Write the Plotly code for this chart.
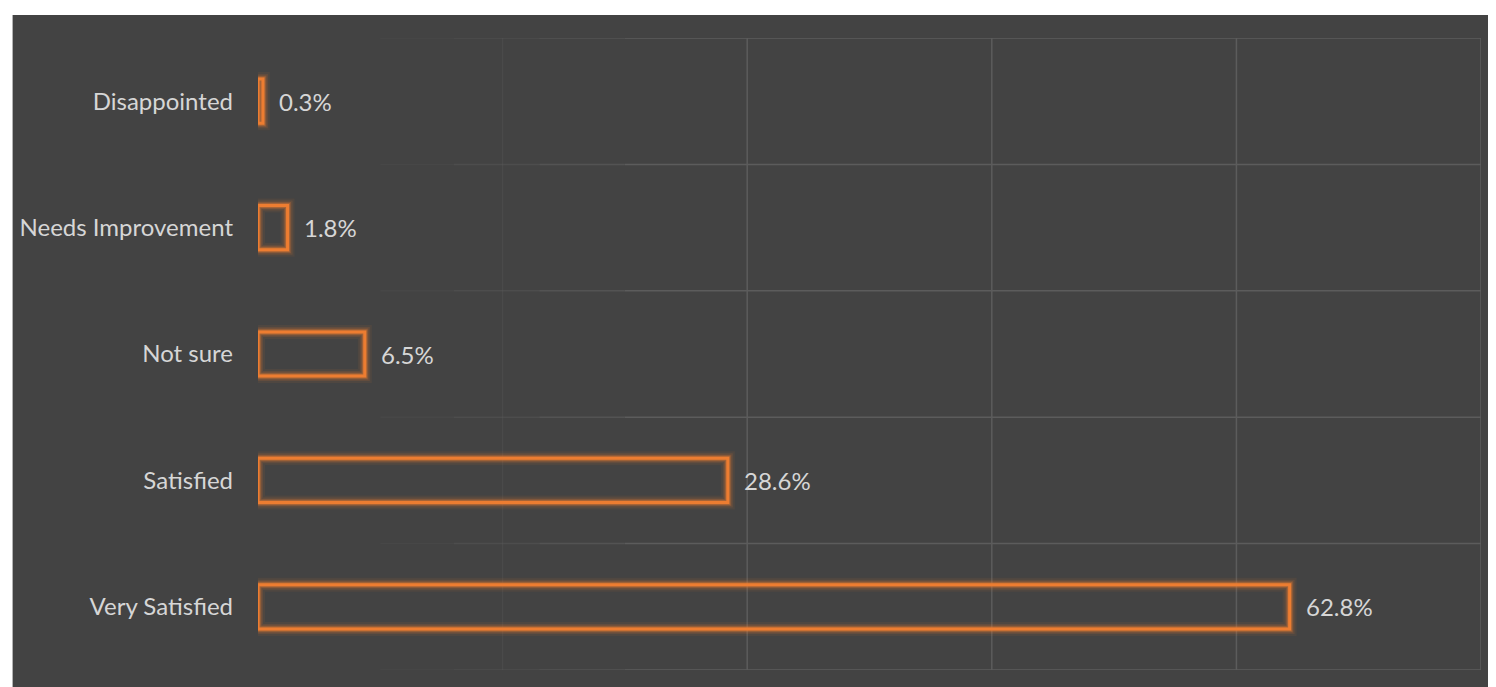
import plotly.graph_objects as go

categories = ["Disappointed", "Needs Improvement", "Not sure", "Satisfied", "Very Satisfied"]
values = [0.3, 1.8, 6.5, 28.6, 62.8]
value_labels = ["0.3%", "1.8%", "6.5%", "28.6%", "62.8%"]
x_max = 74.45
x_step = 14.89

# page body adds an 8px margin, so the figure is placed at (8, 8)
OFF = 8
W, H = 1496 - OFF, 687 - OFF
L, T = 255 - OFF, 38 - OFF
R = W - (1481 - OFF)
B = H - (670 - OFF)
BG = "#434343"
ORANGE = "#ED7D31"
TEXT = "#D6D6D6"
GRID = (92, 92, 92)
FONT = "Lato"
FS = 24

fig = go.Figure()

# glow layers
for lw, alpha in [(14, 0.07), (10, 0.13), (7, 0.22), (5, 0.35)]:
    fig.add_trace(go.Bar(
        y=categories, x=values, orientation="h", width=0.35,
        marker=dict(color="rgba(0,0,0,0)", line=dict(color=f"rgba(237,125,49,{alpha})", width=lw)),
        hoverinfo="skip", showlegend=False,
    ))
fig.add_trace(go.Bar(
    y=categories, x=values, orientation="h", width=0.35,
    marker=dict(color="rgba(0,0,0,0)", line=dict(color=ORANGE, width=3)),
    showlegend=False,
))

for c, v, t in zip(categories, values, value_labels):
    fig.add_annotation(x=v, y=c, text=t, showarrow=False, xanchor="left", yanchor="middle",
                       xshift=14, font=dict(family=FONT, size=FS, color=TEXT))

pw = W - L - R
ph = H - T - B
fig.add_shape(type="rect", xref="paper", yref="paper",
              x0=(9 - OFF - L) / pw, x1=(W - L) / pw, y0=-B / ph, y1=(H - (15 - OFF) - B) / ph,
              fillcolor=BG, line=dict(width=0), layer="below")


def grid_col(a):
    return f"rgba({GRID[0]},{GRID[1]},{GRID[2]},{a})"


# grid lines fading towards the left, as in the reference
fade = [(0.0, 0.10, 0.0), (0.10, 0.16, 0.2), (0.16, 0.23, 0.4), (0.23, 0.30, 0.65), (0.30, 1.0, 1.0)]
n_cat = len(categories)
for k in range(n_cat + 1):
    yb = k - 0.5
    for f0, f1, a in fade:
        if a <= 0:
            continue
        fig.add_shape(type="line", xref="x", yref="y", x0=f0 * x_max, x1=f1 * x_max, y0=yb, y1=yb,
                      line=dict(color=grid_col(a), width=1.5), layer="below")
nv = int(round(x_max / x_step))
for i in range(1, nv + 1):
    xv = min(i * x_step, x_max)
    frac = xv / x_max
    a = 0.3 if frac < 0.25 else 1.0
    fig.add_shape(type="line", xref="x", yref="y", x0=xv, x1=xv, y0=-0.5, y1=n_cat - 0.5,
                  line=dict(color=grid_col(a), width=1.5), layer="below")

fig.update_layout(
    width=W, height=H,
    margin=dict(l=L, r=R, t=T, b=B, pad=0),
    paper_bgcolor="white",
    plot_bgcolor=BG,
    barmode="overlay",
    font=dict(family=FONT, size=FS, color=TEXT),
    xaxis=dict(range=[0, x_max], showticklabels=False, showgrid=False, zeroline=False,
               showline=False),
    yaxis=dict(range=[n_cat - 0.5, -0.5], type="category", ticks="", showgrid=False,
               ticklabelstandoff=24, tickfont=dict(family=FONT, size=FS, color=TEXT)),
)

fig.write_html("out.html")
